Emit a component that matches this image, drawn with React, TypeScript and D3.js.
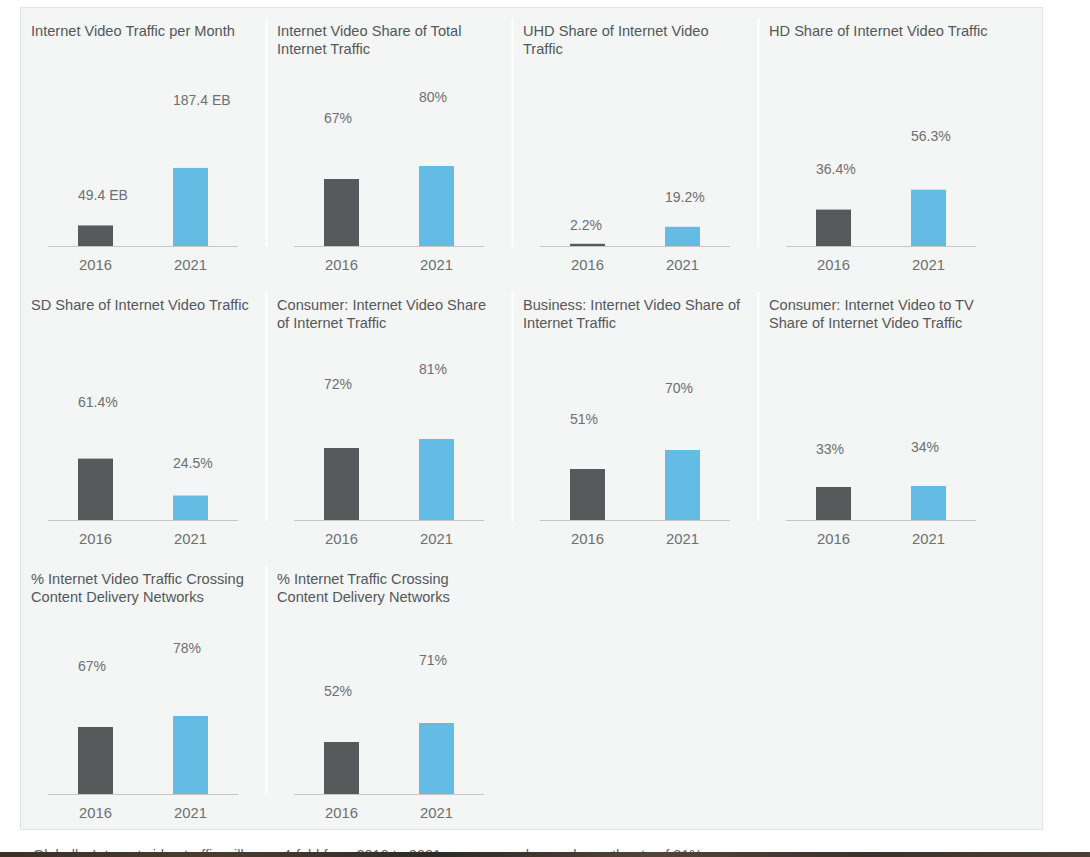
import { useEffect, useRef } from "react";
import * as d3 from "d3";

const years = ["2016", "2021"];

const titles: string[][] = [
    ["Internet Video Traffic per Month"],
    ["Internet Video Share of Total", "Internet Traffic"],
    ["UHD Share of Internet Video", "Traffic"],
    ["HD Share of Internet Video Traffic"],
    ["SD Share of Internet Video Traffic"],
    ["Consumer: Internet Video Share", "of Internet Traffic"],
    ["Business: Internet Video Share of", "Internet Traffic"],
    ["Consumer: Internet Video to TV", "Share of Internet Video Traffic"],
    ["% Internet Video Traffic Crossing", "Content Delivery Networks"],
    ["% Internet Traffic Crossing", "Content Delivery Networks"],
];

const values2016 = [49.4, 67, 2.2, 36.4, 61.4, 72, 51, 33, 67, 52];
const values2021 = [187.4, 80, 19.2, 56.3, 24.5, 81, 70, 34, 78, 71];
const units = [" EB", "%", "%", "%", "%", "%", "%", "%", "%", "%"];
const domainMax = [240, 100, 100, 100, 100, 100, 100, 100, 100, 100];

const footnote =
    "Globally, Internet video traffic will grow 4-fold from 2016 to 2021, a compound annual growth rate of 31%";

const W = 1090;
const H = 857;
const FONT = "'Liberation Sans', Arial, Helvetica, sans-serif";
const barColors = ["#58595b", "#64bbe3"];

export default function App() {
    const svgRef = useRef<SVGSVGElement | null>(null);

    useEffect(() => {
        document.body.style.margin = "0";
        const svg = d3.select(svgRef.current!).attr("width", W).attr("height", H);
        svg.selectAll("*").remove();

        svg.append("rect").attr("width", W).attr("height", H).attr("fill", "#ffffff");

        // panel
        svg.append("rect")
            .attr("x", 20.5)
            .attr("y", 7.5)
            .attr("width", 1022)
            .attr("height", 822)
            .attr("fill", "#f4f5f5")
            .attr("stroke", "#e1e2e2");

        const cellW = 246;
        const rowH = 274;

        titles.forEach((lines, i) => {
            const col = i % 4;
            const row = Math.floor(i / 4);
            const cx = 20 + col * cellW;
            const y0 = 246 + row * rowH;
            const g = svg.append("g").attr("transform", `translate(${cx},0)`);

            if (col > 0) {
                g.append("rect")
                    .attr("x", -0.5)
                    .attr("y", 18 + row * rowH)
                    .attr("width", 2)
                    .attr("height", 229)
                    .attr("fill", "#ffffff");
            }

            // title
            const t = g.append("text")
                .attr("x", 11)
                .attr("y", 36 + row * rowH)
                .attr("font-family", FONT)
                .attr("font-size", 14.6)
                .attr("fill", "#53575b");
            lines.forEach((ln, k) => {
                t.append("tspan").attr("x", 11).attr("dy", k === 0 ? 0 : 18).text(ln);
            });

            const x = d3.scaleBand<string>().domain(years).range([28, 218]).paddingInner(0.6316).paddingOuter(0.3158);
            const y = d3.scaleLinear().domain([0, domainMax[i]]).range([y0, y0 - 100]);
            const vals = [values2016[i], values2021[i]];

            g.append("line")
                .attr("x1", 28)
                .attr("x2", 218)
                .attr("y1", y0 + 0.5)
                .attr("y2", y0 + 0.5)
                .attr("stroke", "#c5c6c6")
                .attr("stroke-width", 1);

            g.selectAll("rect.bar")
                .data(vals)
                .join("rect")
                .attr("class", "bar")
                .attr("x", (_d, k) => x(years[k])!)
                .attr("width", x.bandwidth())
                .attr("y", (d) => y(d))
                .attr("height", (d) => y0 - y(d))
                .attr("fill", (_d, k) => barColors[k]);

            // value labels sit above the bars, pushed up in proportion to bar height
            g.selectAll("text.val")
                .data(vals)
                .join("text")
                .attr("class", "val")
                .attr("x", (_d, k) => x(years[k])!)
                .attr("y", (d) => y0 - 12 - 1.65 * (y0 - y(d)))
                .attr("font-family", FONT)
                .attr("font-size", 14)
                .attr("fill", "#6d6f72")
                .text((d) => `${d}${units[i]}`);

            g.selectAll("text.yr")
                .data(years)
                .join("text")
                .attr("class", "yr")
                .attr("x", (d) => x(d)! + x.bandwidth() / 2)
                .attr("y", y0 + 24)
                .attr("text-anchor", "middle")
                .attr("font-family", FONT)
                .attr("font-size", 14.8)
                .attr("fill", "#6d6f72")
                .text((d) => d);
        });

        svg.append("text")
            .attr("x", 33)
            .attr("y", 860)
            .attr("font-family", FONT)
            .attr("font-size", 14.5)
            .attr("fill", "#5f6266")
            .text(footnote);

        // dark strip at the bottom edge
        const grad = svg.append("defs").append("linearGradient").attr("id", "strip");
        [
            ["0%", "#3a3028"],
            ["20%", "#4a3d30"],
            ["40%", "#2f2a26"],
            ["60%", "#52443a"],
            ["80%", "#3a322c"],
            ["100%", "#4d4036"],
        ].forEach(([o, c]) => grad.append("stop").attr("offset", o).attr("stop-color", c));
        svg.append("rect").attr("x", 0).attr("y", 852).attr("width", W).attr("height", 5).attr("fill", "url(#strip)");
    }, []);

    return <svg ref={svgRef} style={{ display: "block" }} />;
}
